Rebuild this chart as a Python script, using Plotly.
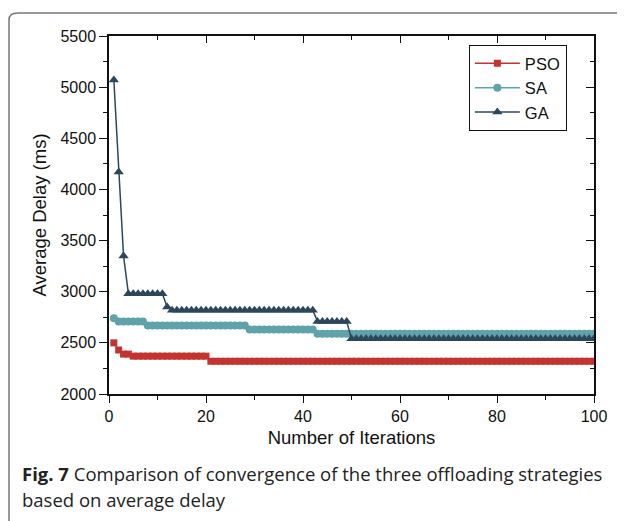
import plotly.graph_objects as go

iterations = list(range(1, 101))

pso = [2500, 2430, 2390, 2390, 2370, 2370, 2370, 2370, 2370, 2370,
       2370, 2370, 2370, 2370, 2370, 2370, 2370, 2370, 2370, 2370,
       2320, 2320, 2320, 2320, 2320, 2320, 2320, 2320, 2320, 2320,
       2320, 2320, 2320, 2320, 2320, 2320, 2320, 2320, 2320, 2320,
       2320, 2320, 2320, 2320, 2320, 2320, 2320, 2320, 2320, 2320,
       2320, 2320, 2320, 2320, 2320, 2320, 2320, 2320, 2320, 2320,
       2320, 2320, 2320, 2320, 2320, 2320, 2320, 2320, 2320, 2320,
       2320, 2320, 2320, 2320, 2320, 2320, 2320, 2320, 2320, 2320,
       2320, 2320, 2320, 2320, 2320, 2320, 2320, 2320, 2320, 2320,
       2320, 2320, 2320, 2320, 2320, 2320, 2320, 2320, 2320, 2320]

sa = [2740, 2710, 2710, 2710, 2710, 2710, 2710, 2670, 2670, 2670,
      2670, 2670, 2670, 2670, 2670, 2670, 2670, 2670, 2670, 2670,
      2670, 2670, 2670, 2670, 2670, 2670, 2670, 2670, 2630, 2630,
      2630, 2630, 2630, 2630, 2630, 2630, 2630, 2630, 2630, 2630,
      2630, 2630, 2590, 2590, 2590, 2590, 2590, 2590, 2590, 2590,
      2590, 2590, 2590, 2590, 2590, 2590, 2590, 2590, 2590, 2590,
      2590, 2590, 2590, 2590, 2590, 2590, 2590, 2590, 2590, 2590,
      2590, 2590, 2590, 2590, 2590, 2590, 2590, 2590, 2590, 2590,
      2590, 2590, 2590, 2590, 2590, 2590, 2590, 2590, 2590, 2590,
      2590, 2590, 2590, 2590, 2590, 2590, 2590, 2590, 2590, 2590]

ga = [5070, 4170, 3350, 2980, 2980, 2980, 2980, 2980, 2980, 2980,
      2980, 2850, 2820, 2820, 2820, 2820, 2820, 2820, 2820, 2820,
      2820, 2820, 2820, 2820, 2820, 2820, 2820, 2820, 2820, 2820,
      2820, 2820, 2820, 2820, 2820, 2820, 2820, 2820, 2820, 2820,
      2820, 2820, 2710, 2710, 2710, 2710, 2710, 2710, 2710, 2540,
      2540, 2540, 2540, 2540, 2540, 2540, 2540, 2540, 2540, 2540,
      2540, 2540, 2540, 2540, 2540, 2540, 2540, 2540, 2540, 2540,
      2540, 2540, 2540, 2540, 2540, 2540, 2540, 2540, 2540, 2540,
      2540, 2540, 2540, 2540, 2540, 2540, 2540, 2540, 2540, 2540,
      2540, 2540, 2540, 2540, 2540, 2540, 2540, 2540, 2540, 2540]

x_ticks = [0, 20, 40, 60, 80, 100]
y_ticks = [2000, 2500, 3000, 3500, 4000, 4500, 5000, 5500]
x_range = [0, 100]
y_range = [2000, 5500]

c_pso = "#c33431"
c_sa = "#5fa2aa"
c_ga = "#2d475a"

LAB = "Liberation Sans, Arial, sans-serif"
CAP = "Open Sans, Noto Sans, sans-serif"

fig = go.Figure()
fig.add_trace(go.Scatter(x=iterations, y=pso, name="PSO", mode="lines+markers",
                         line=dict(color=c_pso, width=1.5),
                         marker=dict(symbol="square", size=7, color=c_pso)))
fig.add_trace(go.Scatter(x=iterations, y=sa, name="SA", mode="lines+markers",
                         line=dict(color=c_sa, width=1.5),
                         marker=dict(symbol="circle", size=8, color=c_sa)))
fig.add_trace(go.Scatter(x=iterations, y=ga, name="GA", mode="lines+markers",
                         line=dict(color=c_ga, width=1.5),
                         marker=dict(symbol="triangle-up", size=9, color=c_ga)))
# helper trace so the mirrored (top/right) axes are drawn
fig.add_trace(go.Scatter(x=[x_range[0]], y=[y_range[0]], xaxis="x2", yaxis="y2",
                         mode="markers", marker=dict(opacity=0), showlegend=False,
                         hoverinfo="skip"))

tick_font = dict(family=LAB, size=16, color="#111")
title_font = dict(family=LAB, size=18.5, color="#111")

fig.update_layout(
    width=617, height=513,
    margin=dict(l=101, r=31, t=28, b=127),
    plot_bgcolor="white", paper_bgcolor="white",
    showlegend=True,
    legend=dict(x=0.742, y=0.975, xanchor="left", yanchor="top",
                bordercolor="#111", borderwidth=1, bgcolor="white",
                font=dict(family=LAB, size=16.5, color="#111"),
                tracegroupgap=0, itemwidth=45),
    xaxis=dict(range=x_range, tickvals=x_ticks, ticks="outside", ticklen=7, tickwidth=1.3,
               tickcolor="#111",
               minor=dict(dtick=10, ticks="outside", ticklen=4, tickcolor="#111"),
               showline=True, linecolor="#111", linewidth=1.5,
               showgrid=False, zeroline=False, tickfont=tick_font,
               title=dict(text="Number of Iterations", standoff=7, font=title_font)),
    yaxis=dict(range=y_range, tickvals=y_ticks, ticks="outside", ticklen=8, tickwidth=1.3,
               tickcolor="#111",
               minor=dict(dtick=250, ticks="outside", ticklen=4, tickcolor="#111"),
               showline=True, linecolor="#111", linewidth=1.5,
               showgrid=False, zeroline=False, tickfont=tick_font,
               title=dict(text="Average Delay (ms)", standoff=9, font=title_font)),
    xaxis2=dict(range=x_range, overlaying="x", side="top", anchor="y2",
                tickvals=x_ticks, ticks="inside", ticklen=7, tickwidth=1.3, tickcolor="#111",
                minor=dict(dtick=10, ticks="inside", ticklen=4, tickcolor="#111"),
                showticklabels=False, showline=True, linecolor="#111", linewidth=1.5,
                showgrid=False, zeroline=False),
    yaxis2=dict(range=y_range, overlaying="y", side="right", anchor="x2",
                tickvals=y_ticks, ticks="inside", ticklen=8, tickwidth=1.3, tickcolor="#111",
                minor=dict(dtick=250, ticks="inside", ticklen=4, tickcolor="#111"),
                showticklabels=False, showline=True, linecolor="#111", linewidth=1.5,
                showgrid=False, zeroline=False),
)

# caption
fig.add_annotation(xref="paper", yref="paper", x=-0.1835, y=-0.2207, xanchor="left", yanchor="middle",
                   showarrow=False, align="left",
                   text="<b>Fig. 7</b> Comparison of convergence of the three offloading strategies",
                   font=dict(family=CAP, size=18.5, color="#222"))
fig.add_annotation(xref="paper", yref="paper", x=-0.1835, y=-0.2933, xanchor="left", yanchor="middle",
                   showarrow=False, align="left",
                   text="based on average delay",
                   font=dict(family=CAP, size=18.5, color="#222"))

# page frame (left and top border, rounded corner)
fig.add_shape(type="path", xref="paper", yref="paper",
              path="M -0.2062,-0.36 L -0.2062,1.045 Q -0.2062,1.0642 -0.188,1.0642 L 1.07,1.0642",
              line=dict(color="#777", width=1.5))

fig.write_html("out.html")
